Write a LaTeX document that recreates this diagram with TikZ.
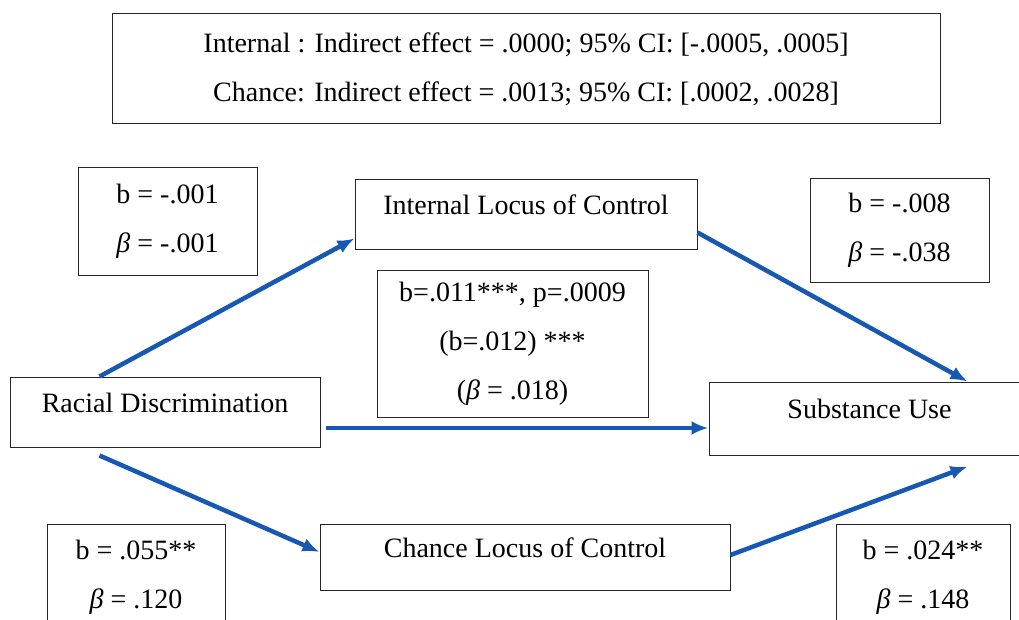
\documentclass[tikz,border=0pt]{standalone}
\usepackage{fontspec}
\setmainfont{Liberation Serif}
\usetikzlibrary{arrows.meta,positioning}
\definecolor{pathblue}{RGB}{22,88,178}
\newcommand{\stdbeta}{\textit{β}}
\tikzset{%
  >={Latex[length=17pt,width=14pt]},
  % Specifications for style of nodes:
         base/.style = {rectangle, draw=black!85, line width=1pt,
                        inner sep=0pt, text centered,
                        font=\fontsize{28}{49}\selectfont},
    construct/.style = {base, text height=.25em, text depth=.25em},
         coef/.style = {base, align=center},
       effect/.style = {->, draw=pathblue, line width=4.5pt},
}
\begin{document}
\begin{tikzpicture}[x=1pt, y=-1pt]
\useasboundingbox (0,0) rectangle (1019,620);

\node (summary) [coef, minimum width=828pt, minimum height=110pt] at (526,69)
  {Internal : Indirect effect = .0000; 95\% CI: [-.0005, .0005]\\
   Chance: Indirect effect = .0013; 95\% CI: [.0002, .0028]};

\node (RD)  [construct, minimum width=310pt, minimum height=70pt] at (165,412)   {Racial Discrimination};
\node (ILC) [construct, minimum width=342pt, minimum height=70pt] at (526,215)   {Internal Locus of Control};
\node (CLC) [construct, minimum width=410pt, minimum height=66pt] at (525,557)   {Chance Locus of Control};
\node (SU)  [construct, minimum width=321pt, minimum height=73pt] at (869.5,418.5) {Substance Use};

\node (coefA) [coef, minimum width=179pt, minimum height=107pt] at (167.5,221.5) {b = -.001\\\stdbeta{} = -.001};
\node (coefB) [coef, minimum width=179pt, minimum height=103pt] at (899.5,230.5) {b = -.008\\\stdbeta{} = -.038};
\node (coefC) [coef, minimum width=178pt, minimum height=107pt] at (136,577.5)   {b = .055**\\\stdbeta{} = .120};
\node (coefD) [coef, minimum width=174pt, minimum height=107pt] at (923,577.5)   {b = .024**\\\stdbeta{} = .148};
\node (direct) [coef, minimum width=271pt, minimum height=147pt] at (512.5,343.5)
  {b=.011***, p=.0009\\(b=.012) ***\\(\stdbeta{} = .018)};

\draw[effect] ([xshift=90pt]RD.north west) -- ([yshift=12pt]ILC.south west);
\draw[effect] ([yshift=18pt]ILC.south east) -- ([xshift=259pt]SU.north west);
\draw[effect] ([shift={(5pt,-16pt)}]RD.east) -- ([yshift=-9.5pt]SU.west);
\draw[effect] ([shift={(90pt,-8pt)}]RD.south west) -- ([yshift=5pt]CLC.west);
\draw[effect] ([yshift=2pt]CLC.east) -- ([shift={(259pt,-11pt)}]SU.south west);
\end{tikzpicture}
\end{document}
